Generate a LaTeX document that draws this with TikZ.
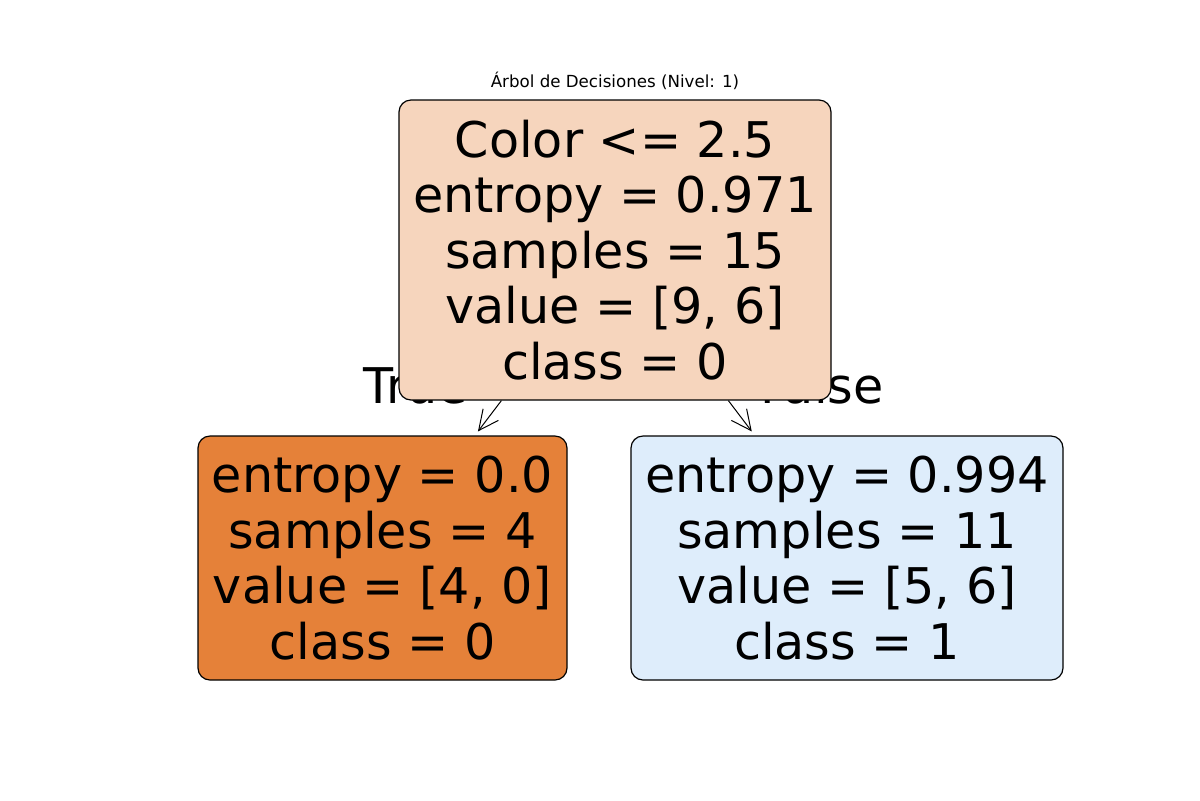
\documentclass[tikz,border=0pt]{standalone}
\usepackage{fontspec}
\setmainfont{DejaVu Sans}
\usetikzlibrary{arrows.meta}

\definecolor{rootfill}{HTML}{F6D5BD}
\definecolor{leftfill}{HTML}{E58139}
\definecolor{rightfill}{HTML}{DEEDFB}

\begin{document}
\begin{tikzpicture}[
    x=0.5pt, y=-0.5pt,
    treenode/.style={draw, line width=0.6pt, rounded corners=6pt, align=center,
        inner sep=0pt, font=\fontsize{24.6}{27.8}\selectfont},
    edgelabel/.style={inner sep=0pt, font=\fontsize{24.6}{27.8}\selectfont},
    ->, >={Straight Barb[length=10pt,width=9.6pt]}
]
    \useasboundingbox (0,0) rectangle (1200,800);

    \node (title) at (615,81) {\fontsize{8.33}{10}\selectfont Árbol de Decisiones (Nivel: 1)};

    % labels sit under the root box
    \node (true) [edgelabel, anchor=base west] at (363,403) {True};
    \node (false) [edgelabel, anchor=base east] at (884,403) {False};

    \node (root) [treenode, fill=rootfill, minimum width=216pt, minimum height=150pt] at (615,250)
        {Color <= 2.5\\entropy = 0.971\\samples = 15\\value = [9, 6]\\class = 0};
    \node (left) [treenode, fill=leftfill, minimum width=184.5pt, minimum height=122pt] at (382.5,558)
        {entropy = 0.0\\samples = 4\\value = [4, 0]\\class = 0};
    \node (right) [treenode, fill=rightfill, minimum width=216pt, minimum height=122pt] at (847,558)
        {entropy = 0.994\\samples = 11\\value = [5, 6]\\class = 1};

    \draw [->, line width=0.5pt, shorten >=2.5pt] (root) -- (left);
    \draw [->, line width=0.5pt, shorten >=2.5pt] (root) -- (right);
\end{tikzpicture}
\end{document}
